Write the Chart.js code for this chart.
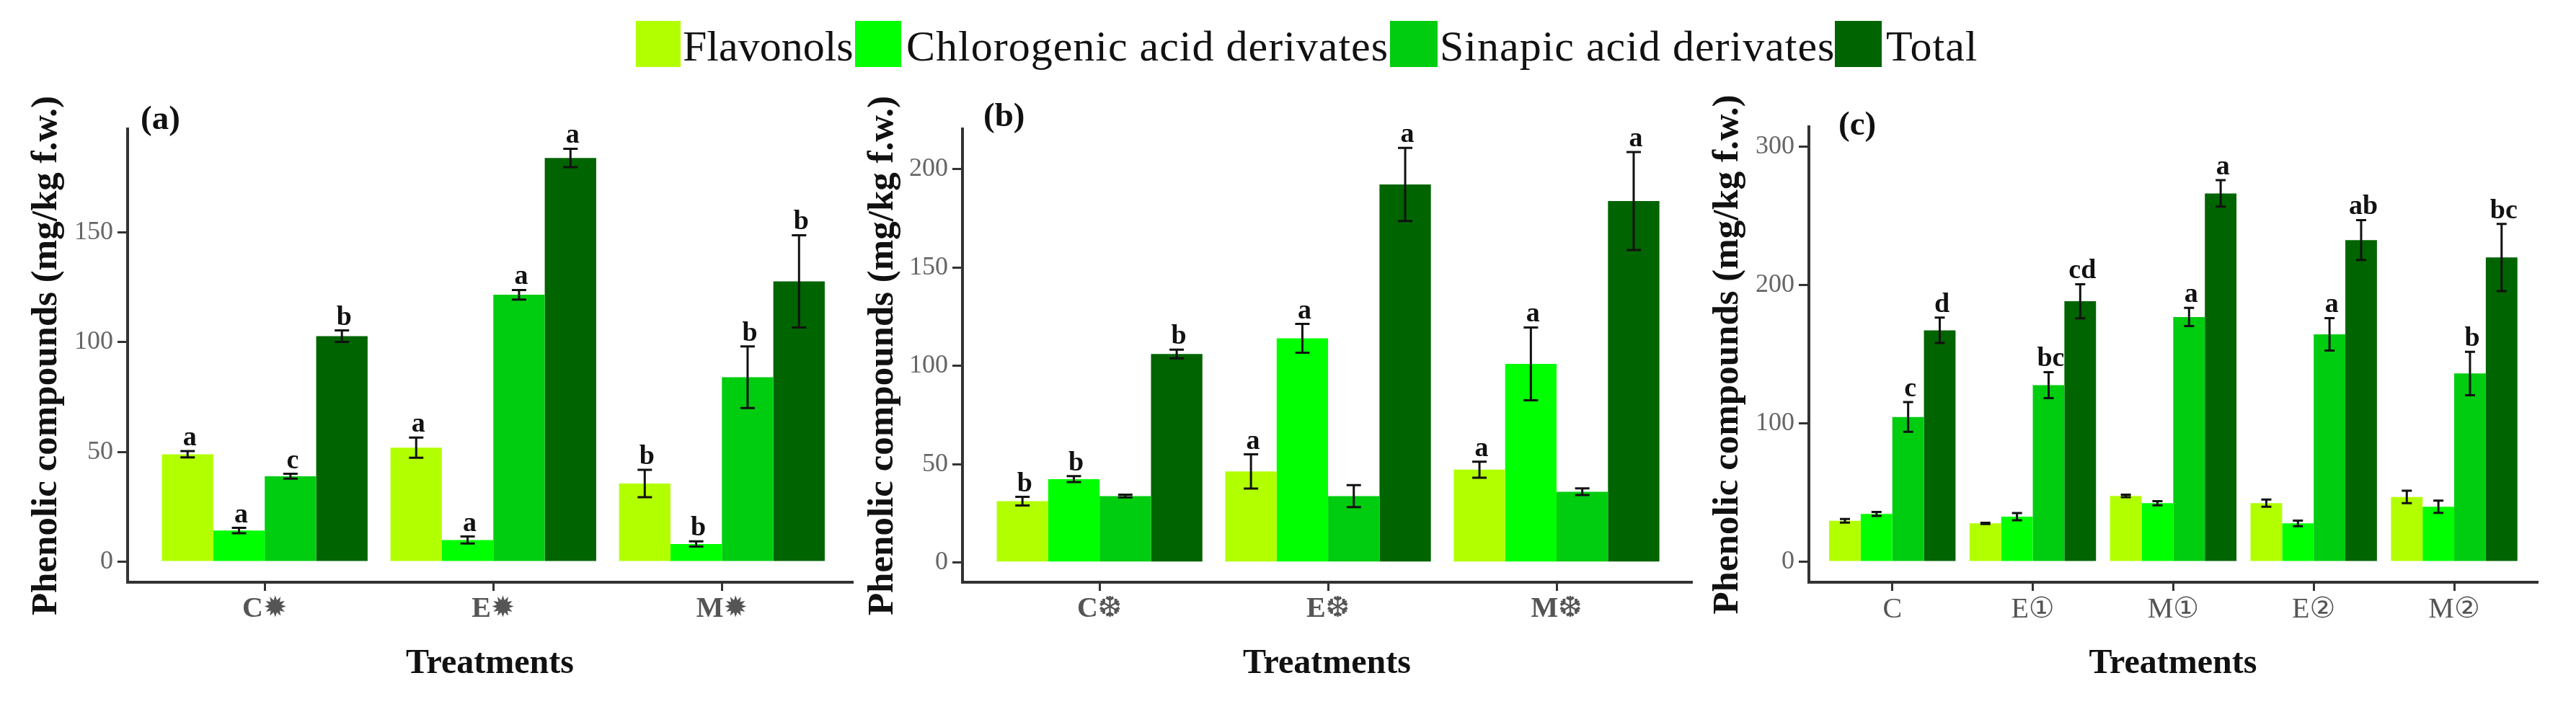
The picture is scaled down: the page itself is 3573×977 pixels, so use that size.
<!DOCTYPE html>
<html>
<head>
<meta charset="utf-8">
<script src="https://cdn.jsdelivr.net/npm/chart.js@4/dist/chart.umd.js"></script>
<style>
html,body{margin:0;padding:0;background:#fff;width:3573px;height:977px;overflow:hidden}
canvas{position:absolute;top:0}
.sw{position:absolute;top:29px;height:64px}
.lt{position:absolute;top:32px;font:60px/65px 'Liberation Serif',serif;color:#111;white-space:nowrap}
</style>
</head>
<body>
<div id="legend"></div>
<canvas id="a"></canvas>
<canvas id="b"></canvas>
<canvas id="c"></canvas>
<script>
const seriesNames = ['Flavonols','Chlorogenic acid derivates','Sinapic acid derivates','Total'];
const seriesColors = ['#b2ff00','#00ff00','#00cc10','#006400'];

const categoriesA = ['C\u2739','E\u2739','M\u2739'];
const yTicksA = [0,50,100,150];
const flavonolsA = [49,52,35.7];
const chlorogenicA = [14.3,10,8.2];
const sinapicA = [39,121.5,84];
const totalA = [102.7,183.7,127.6];
const flavonolsErrA = [1.4,4.6,6.2];
const chlorogenicErrA = [1.2,1.6,1.2];
const sinapicErrA = [1.1,2.2,14];
const totalErrA = [2.6,4.2,21];
const flavonolsLetA = ['a','a','b'];
const chlorogenicLetA = ['a','a','b'];
const sinapicLetA = ['c','a','b'];
const totalLetA = ['b','a','b'];

const categoriesB = ['C\u2746','E\u2746','M\u2746'];
const yTicksB = [0,50,100,150,200];
const flavonolsB = [31.2,46.3,47.2];
const chlorogenicB = [42.4,114,101];
const sinapicB = [33.8,33.8,36];
const totalB = [106,192.2,183.8];
const flavonolsErrB = [2.2,8.7,4.1];
const chlorogenicErrB = [1.5,7.3,18.5];
const sinapicErrB = [0.7,5.6,1.7];
const totalErrB = [2.2,18.6,24.9];
const flavonolsLetB = ['b','a','a'];
const chlorogenicLetB = ['b','a','a'];
const sinapicLetB = ['','',''];
const totalLetB = ['b','a','a'];

const categoriesC = ['C','E\u2460','M\u2460','E\u2461','M\u2461'];
const yTicksC = [0,100,200,300];
const flavonolsC = [29.8,27.9,47.7,42.5,47];
const chlorogenicC = [34.7,32.8,42.5,27.9,39.9];
const sinapicC = [104.8,127.8,177,164.5,136.2];
const totalC = [167.4,188.4,266.3,232.6,220];
const flavonolsErrC = [1.3,0.5,0.9,2.6,4.5];
const chlorogenicErrC = [1.4,2.6,1.5,2,4.4];
const sinapicErrC = [10.7,9.4,6.6,11.7,15.7];
const totalErrC = [9.2,12.3,9.6,14.4,24.3];
const flavonolsLetC = ['','','','',''];
const chlorogenicLetC = ['','','','',''];
const sinapicLetC = ['c','bc','a','a','b'];
const totalLetC = ['d','cd','a','ab','bc'];

const yTitle = 'Phenolic compounds (mg/kg f.w.)';
const xTitle = 'Treatments';
const SERIF = "'Liberation Serif','DejaVu Serif','DejaVu Sans',serif";

// legend
const legendPos = [[882,62,947,0],[1186,64,1257,1],[1928,66,1997,1],[2545,65,2616,1]];
const lg = document.getElementById('legend');
seriesNames.forEach((n,i)=>{
  const [sx,sw,tx,ls] = legendPos[i];
  const s = document.createElement('div'); s.className='sw';
  s.style.left=sx+'px'; s.style.width=sw+'px'; s.style.background=seriesColors[i];
  lg.appendChild(s);
  const t = document.createElement('div'); t.className='lt';
  t.style.left=tx+'px'; t.style.letterSpacing=ls+'px'; t.textContent=n;
  lg.appendChild(t);
});

const errorLetters = {
  id:'errorLetters',
  afterDatasetsDraw(chart, _a, o){
    const ctx = chart.ctx, y = chart.scales.y;
    ctx.save();
    chart.data.datasets.forEach((ds,i)=>{
      chart.getDatasetMeta(i).data.forEach((bar,j)=>{
        const v = ds.data[j].y, e = ds.errors[j];
        const hi = y.getPixelForValue(v+e), lo = y.getPixelForValue(v-e), x = bar.x;
        ctx.strokeStyle='#111'; ctx.lineWidth=3;
        ctx.beginPath();
        ctx.moveTo(x,hi); ctx.lineTo(x,lo);
        ctx.moveTo(x-o.cap,hi); ctx.lineTo(x+o.cap,hi);
        ctx.moveTo(x-o.cap,lo); ctx.lineTo(x+o.cap,lo);
        ctx.stroke();
        if(ds.letters[j]){
          ctx.fillStyle='#111'; ctx.font='bold 38px '+SERIF;
          ctx.textAlign='center'; ctx.textBaseline='alphabetic';
          ctx.fillText(ds.letters[j],x+3,hi-8);
        }
      });
    });
    ctx.fillStyle='#111'; ctx.font='bold 47px '+SERIF;
    ctx.textAlign='left'; ctx.textBaseline='middle';
    ctx.fillText(o.tag,o.tagX,o.tagY);
    ctx.restore();
  }
};

function panel(cfg){
  const el = document.getElementById(cfg.id);
  const W = cfg.right-cfg.left, H = 977;
  el.style.left = cfg.left+'px'; el.style.width = W+'px'; el.style.height = H+'px';
  el.width = W; el.height = H;
  new Chart(el,{
    type:'bar',
    data:{datasets:seriesNames.map((n,i)=>({
      label:n,
      backgroundColor:seriesColors[i],
      borderWidth:0,
      data:cfg.values[i].map((v,j)=>({x:j,y:v})),
      errors:cfg.errs[i],
      letters:cfg.lets[i],
      categoryPercentage:0.9,
      barPercentage:1
    }))},
    options:{
      responsive:false,animation:false,
      layout:{padding:{left:0,right:cfg.right-cfg.plotRight,top:cfg.plotTop,bottom:0}},
      plugins:{legend:{display:false},tooltip:{enabled:false},
        errorLetters:{cap:cfg.cap,tag:cfg.tag,tagX:cfg.tagX-cfg.left,tagY:cfg.tagY}},
      scales:{
        x:{
          type:'linear',min:cfg.xMin,max:cfg.xMax,offset:false,
          afterBuildTicks:s=>{s.ticks=cfg.cats.map((_,i)=>({value:i}));},
          afterFit:s=>{s.height=977-808;},
          grid:{offset:false,drawOnChartArea:false,drawTicks:true,tickLength:12,color:'#333',lineWidth:3},
          border:{display:true,color:'#333',width:4},
          ticks:{autoSkip:false,maxRotation:0,padding:2,color:'#555',
            font:{family:SERIF,size:40,weight:cfg.xWeight},
            callback:v=>cfg.cats[v]},
          title:{display:true,text:xTitle,color:'#111',
            font:{family:SERIF,size:48,weight:'bold',lineHeight:1},padding:{top:0,bottom:31}}
        },
        y:{
          min:cfg.yMin,max:cfg.yMax,
          afterBuildTicks:s=>{s.ticks=cfg.yTicks.map(v=>({value:v}));},
          afterFit:s=>{s.width=cfg.plotLeft-cfg.left;},
          grid:{drawOnChartArea:false,drawTicks:true,tickLength:14,color:'#333',lineWidth:3},
          border:{display:true,color:'#333',width:4},
          ticks:{padding:6,color:'#666',font:{family:SERIF,size:36}},
          title:{display:true,text:yTitle,color:'#111',
            font:{family:SERIF,size:51,weight:'bold',lineHeight:1},padding:{top:cfg.titleLeft,bottom:0}}
        }
      }
    },
    plugins:[errorLetters]
  });
}

panel({id:'a',left:0,right:1190,plotLeft:177,plotRight:1182,plotTop:179,
  xMin:-0.6,xMax:2.57,yMin:-9.2,yMax:196.9,cap:10,tag:'(a)',tagX:195,tagY:167,titleLeft:39,xWeight:'bold',
  cats:categoriesA,yTicks:yTicksA,
  values:[flavonolsA,chlorogenicA,sinapicA,totalA],
  errs:[flavonolsErrA,chlorogenicErrA,sinapicErrA,totalErrA],
  lets:[flavonolsLetA,chlorogenicLetA,sinapicLetA,totalLetA]});
panel({id:'b',left:1190,right:2360,plotLeft:1335,plotRight:2346,plotTop:179,
  xMin:-0.6,xMax:2.59,yMin:-10,yMax:220.4,cap:10,tag:'(b)',tagX:1364,tagY:163,titleLeft:9,xWeight:'bold',
  cats:categoriesB,yTicks:yTicksB,
  values:[flavonolsB,chlorogenicB,sinapicB,totalB],
  errs:[flavonolsErrB,chlorogenicErrB,sinapicErrB,totalErrB],
  lets:[flavonolsLetB,chlorogenicLetB,sinapicLetB,totalLetB]});
panel({id:'c',left:2360,right:3573,plotLeft:2509,plotRight:3519,plotTop:176,
  xMin:-0.594,xMax:4.59,yMin:-14.6,yMax:314.4,cap:7,tag:'(c)',tagX:2550,tagY:175,titleLeft:11,xWeight:'normal',
  cats:categoriesC,yTicks:yTicksC,
  values:[flavonolsC,chlorogenicC,sinapicC,totalC],
  errs:[flavonolsErrC,chlorogenicErrC,sinapicErrC,totalErrC],
  lets:[flavonolsLetC,chlorogenicLetC,sinapicLetC,totalLetC]});
</script>
</body>
</html>
